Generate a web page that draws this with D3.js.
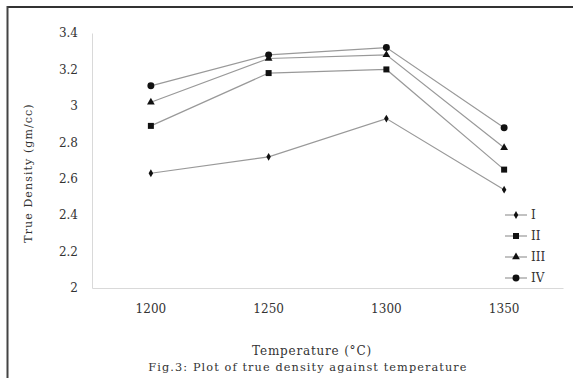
<!DOCTYPE html>
<meta charset="utf-8">
<title>True density</title>
<style>
  body { margin: 0; background: #fff; }
  text { font-family: "DejaVu Serif", "Liberation Serif", serif; fill: #333; }
</style>
<div id="viz"></div>
<script src="https://cdnjs.cloudflare.com/ajax/libs/d3/7.8.5/d3.min.js"></script>
<script>

var temps = ["1200", "1250", "1300", "1350"];
var seriesNames = ["I", "II", "III", "IV"];
var seriesI = [2.63, 2.72, 2.93, 2.54];
var seriesII = [2.89, 3.18, 3.20, 2.65];
var seriesIII = [3.02, 3.26, 3.28, 2.77];
var seriesIV = [3.11, 3.28, 3.32, 2.88];
var yTicks = [2, 2.2, 2.4, 2.6, 2.8, 3, 3.2, 3.4];

var width = 573;
var height = 378;
var serif = "DejaVu Serif, Liberation Serif, serif";

var svg = d3.select("#viz")
  .append("svg")
  .attr("width", width)
  .attr("height", height);

// frame (only top and left edges show in the scan)
svg.append("line").attr("x1", 7).attr("x2", width).attr("y1", 7).attr("y2", 7)
  .attr("stroke", "#333").attr("stroke-width", 2);
svg.append("line").attr("x1", 7.5).attr("x2", 7.5).attr("y1", 6).attr("y2", height)
  .attr("stroke", "#444").attr("stroke-width", 2);

var x = d3.scaleBand().domain(temps).range([92, 563]);
var y = d3.scaleLinear().domain([2, 3.4]).range([288, 33]);

// axes
var yAxis = svg.append("g").attr("transform", "translate(92,0)")
  .call(d3.axisLeft(y).tickValues(yTicks).tickSize(0).tickPadding(14)
    .tickFormat(function(d) { return String(+d.toFixed(1)); }));
yAxis.select(".domain").attr("stroke", "#d9d9d9");
yAxis.selectAll("text").attr("font-size", 12).attr("fill", "#555")
  .style("font-family", serif);

var xAxis = svg.append("g").attr("transform", "translate(0,288)")
  .call(d3.axisBottom(x).tickSize(0).tickPadding(16));
xAxis.select(".domain").attr("stroke", "#d9d9d9");
xAxis.selectAll("text").attr("font-size", 12).attr("fill", "#555")
  .style("font-family", serif);

// axis titles
svg.append("text")
  .attr("transform", "translate(32,173) rotate(-90)")
  .attr("text-anchor", "middle")
  .attr("font-size", 11)
  .attr("letter-spacing", 1.1)
  .attr("fill", "#555")
  .text("True Density (gm/cc)");

svg.append("text")
  .attr("x", 312).attr("y", 355)
  .attr("text-anchor", "middle")
  .attr("font-size", 12)
  .attr("letter-spacing", 0.8)
  .text("Temperature (°C)");

svg.append("text")
  .attr("x", 308).attr("y", 371)
  .attr("text-anchor", "middle")
  .attr("font-size", 11.3)
  .attr("letter-spacing", 1.1)
  .text("Fig.3: Plot of true density against temperature");

// series
var allSeries = [seriesI, seriesII, seriesIII, seriesIV];
var symbols = [
  d3.symbol().type(d3.symbolDiamond).size(18),
  d3.symbol().type(d3.symbolSquare).size(36),
  d3.symbol().type(d3.symbolTriangle).size(26),
  d3.symbol().type(d3.symbolCircle).size(38)
];

var line = d3.line()
  .x(function(d, i) { return x(temps[i]) + x.bandwidth() / 2; })
  .y(function(d) { return y(d); });

allSeries.forEach(function(vals, s) {
  svg.append("path")
    .datum(vals)
    .attr("d", line)
    .attr("fill", "none")
    .attr("stroke", "#999")
    .attr("stroke-width", 1.2);
  svg.selectAll(".pt" + s)
    .data(vals)
    .enter().append("path")
    .attr("transform", function(d, i) {
      return "translate(" + (x(temps[i]) + x.bandwidth() / 2) + "," + y(d) + ")";
    })
    .attr("d", symbols[s])
    .attr("fill", "#111");
});

// legend
var legend = svg.append("g");
seriesNames.forEach(function(name, s) {
  var ly = 215 + s * 21;
  legend.append("line").attr("x1", 505).attr("x2", 527).attr("y1", ly).attr("y2", ly)
    .attr("stroke", "#999").attr("stroke-width", 1.2);
  legend.append("path").attr("transform", "translate(516," + ly + ")")
    .attr("d", symbols[s]).attr("fill", "#111");
  legend.append("text").attr("x", 531).attr("y", ly + 4)
    .attr("font-size", 12).attr("fill", "#555").text(name);
});

</script>
